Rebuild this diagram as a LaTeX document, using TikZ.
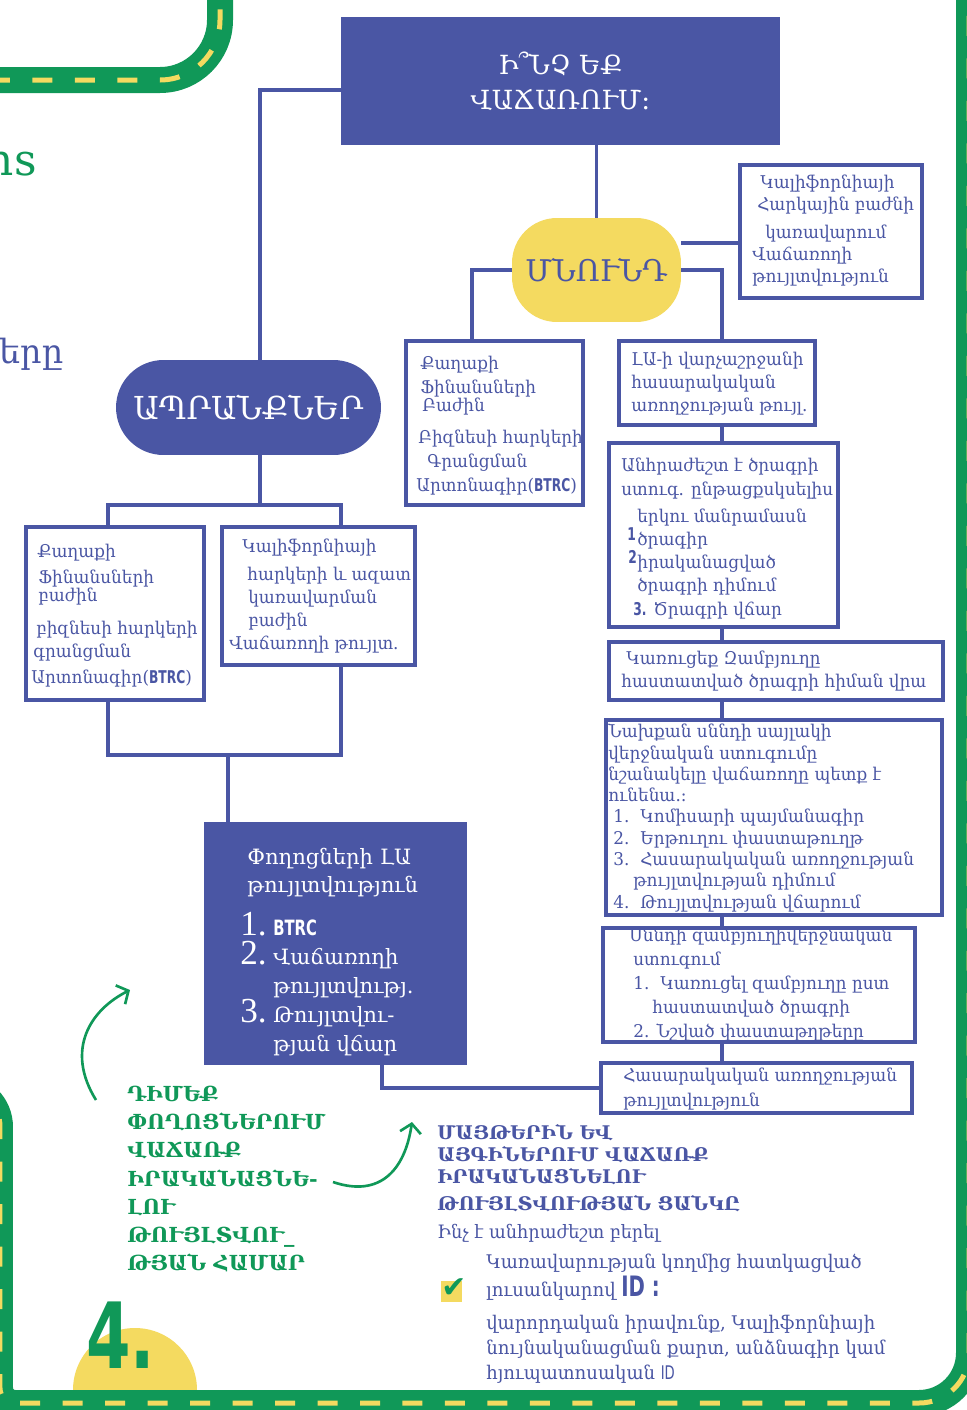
\documentclass[tikz,border=0pt]{standalone}
\usepackage{fontspec}
\setmainfont{DejaVu Serif}
\newfontfamily\bodyf[FakeStretch=0.96]{DejaVu Serif}
\newfontfamily\sansf{DejaVu Sans}
\newfontfamily\condf[FakeStretch=0.7]{DejaVu Sans}
\newfontfamily\numf{Liberation Serif}
\usetikzlibrary{arrows.meta}
\definecolor{planblue}{RGB}{74,86,164}
\definecolor{roadgreen}{RGB}{16,152,88}
\definecolor{signyellow}{RGB}{244,218,96}
\newcommand{\btrc}{{\condf\bfseries BTRC}}
\newcommand{\bignum}[1]{\makebox[0.66cm][l]{\numf\fontsize{20}{20}\selectfont #1}}
\newcommand{\itm}[1]{\makebox[0.54cm][l]{#1}}

\begin{document}
\begin{tikzpicture}[x=0.02cm, y=-0.02cm,
	road/.style={line width=0.52cm, draw=roadgreen, postaction={draw=signyellow, line width=0.1cm, dash pattern=on 0.4cm off 0.45cm}},
	link/.style={draw=planblue, line width=2.2pt},
	outbox/.style={draw=planblue, line width=2.2pt, fill=white, inner sep=0},
	solidbox/.style={fill=planblue, inner sep=0},
	boxtext/.style={anchor=north west, align=left, inner sep=0, text=planblue, font=\bodyf\fontsize{10}{#1}\selectfont},
	greenarrow/.style={draw=roadgreen, line width=1.5pt, -{Straight Barb[length=1.8mm,width=4.2mm]}}]
	\useasboundingbox (0,0) rectangle (967,1410);
	\fill[white] (0,0) rectangle (967,1410);
	\fill[signyellow] (135,1390) circle[radius=62];
	\draw[road] (-10,80) [rounded corners=1.2cm] -- (220,80) -- (220,-20);
	\draw[road] (-70,1087) [rounded corners=0.8cm] -- (0,1087) [rounded corners=0.3cm] -- (0,1403) [rounded corners=1cm] -- (969,1403) -- (969,-20);
	\node[anchor=base east, text=roadgreen, font=\fontsize{25}{25}\selectfont, inner sep=0] (cutgreen) at (37,175) {ns};
	\node[anchor=base east, text=planblue, font=\fontsize{19}{19}\selectfont, inner sep=0] (cutblue) at (64,363) {ները};
	\node[anchor=base west, text=roadgreen, font=\condf\bfseries\fontsize{52}{52}\selectfont, inner sep=0] (stepnum) at (86,1368) {4.};

	\node[solidbox, minimum width=8.78cm, minimum height=2.56cm, text=white, align=center, font=\fontsize{15}{20}\selectfont] (ask) at (560.5,81) {Ի՞ՆՉ ԵՔ\\ՎԱՃԱՌՈՒՄ:};
	\node[fill=signyellow, text=planblue, rounded corners=0.9cm, minimum width=3.38cm, minimum height=2.08cm, font=\fontsize{17}{17}\selectfont] (mnund) at (596.5,270) {ՄՆՈՒՆԴ};
	\node[fill=planblue, text=white, rounded corners=0.95cm, minimum width=5.3cm, minimum height=1.9cm, font=\fontsize{18}{18}\selectfont] (goods) at (248.5,407.5) {ԱՊՐԱՆՔՆԵՐ};

	\node[outbox, minimum width=3.64cm, minimum height=2.66cm] (calbox) at (831,231.5) {};
	\node[boxtext=12.5] (caltext) at (752,175) {\hspace*{0.16cm}Կալիֆորնիայի\\ \hspace*{0.1cm}Հարկային բաժնի\\[0.12cm] \hspace*{0.26cm}կառավարում\\ Վաճառողի\\ թույլտվություն};
	\node[outbox, minimum width=3.54cm, minimum height=3.28cm] (cityA) at (494.5,423) {};
	\node[boxtext=13] (citytextA) at (416,356) {\hspace*{0.08cm}Քաղաքի\\[0.02cm] \hspace*{0.08cm}Ֆինանսների\\[-0.1cm] \hspace*{0.12cm}Բաժին\\[0.18cm] \hspace*{0.04cm}Բիզնեսի հարկերի\\[0.02cm] \hspace*{0.22cm}Գրանցման\\[0.04cm] Արտոնագիր(\btrc)};
	\node[outbox, minimum width=3.92cm, minimum height=1.68cm] (lahealth) at (717,383) {};
	\node[boxtext=13] (lahealthtext) at (631,352) {ԼԱ-ի վարչաշրջանի\\ հասարակական\\ առողջության թույլ.};
	\node[outbox, minimum width=4.58cm, minimum height=3.68cm] (plan) at (723.5,535) {};
	\node[boxtext=13.2] (plantext) at (621,458) {Անհրաժեշտ է ծրագրի\\ ստուգ. ընթացքսկսելիս\\[0.08cm] \hspace*{0.32cm}երկու մանրամասն\\ \makebox[0.32cm][l]{\hspace*{0.12cm}\raisebox{0.6ex}{\condf\bfseries 1}}ծրագիր\\ \makebox[0.32cm][l]{\hspace*{0.14cm}\raisebox{0.6ex}{\condf\bfseries 2}}իրականացված\\ \hspace*{0.32cm}ծրագրի դիմում\\ \hspace*{0.24cm}{\condf\bfseries 3.} Ծրագրի վճար};
	\node[outbox, minimum width=6.68cm, minimum height=1.16cm] (build) at (776,671) {};
	\node[boxtext=13] (buildtext) at (621,651) {\hspace*{0.1cm}Կառուցեք Զամբյուղը\\ հաստատված ծրագրի հիման վրա};
	\node[outbox, minimum width=6.72cm, minimum height=3.9cm] (before) at (774,817.5) {};
	\node[boxtext=12.1] (beforetext) at (608,724) {Նախքան սննդի սայլակի\\ վերջնական ստուգումը\\ նշանակելը վաճառողը պետք է\\ ունենա.:\\ \hspace*{0.1cm}\itm{1.}Կոմիսարի պայմանագիր\\ \hspace*{0.1cm}\itm{2.}Երթուղու փաստաթուղթ\\ \hspace*{0.1cm}\itm{3.}Հասարակական առողջության\\ \hspace*{0.5cm}թույլտվության դիմում\\ \hspace*{0.1cm}\itm{4.}Թույլտվության վճարում};
	\node[outbox, minimum width=6.24cm, minimum height=2.28cm] (cartcheck) at (759,985) {};
	\node[boxtext=13.6] (cartchecktext) at (629,928) {Սննդի զամբյուղիվերջնական\\ \hspace*{0.08cm}ստուգում\\ \hspace*{0.08cm}\itm{1.}Կառուցել զամբյուղը ըստ\\ \hspace*{0.46cm}հաստատված ծրագրի\\ \hspace*{0.08cm}2. Նշված փաստաթղթերը};
	\node[outbox, minimum width=6.22cm, minimum height=1.0cm] (permit) at (756.5,1088) {};
	\node[boxtext=14.2] (permittext) at (623,1068) {Հասարակական առողջության\\ թույլտվություն};

	\node[outbox, minimum width=3.56cm, minimum height=3.46cm] (cityB) at (115,613.5) {};
	\node[boxtext=13] (citytextB) at (31,544) {\hspace*{0.12cm}Քաղաքի\\[0.06cm] \hspace*{0.14cm}Ֆինանսների\\[-0.1cm] \hspace*{0.14cm}բաժին\\[0.2cm] \hspace*{0.1cm}բիզնեսի հարկերի\\ \hspace*{0.04cm}գրանցման\\[0.08cm] Արտոնագիր(\btrc)};
	\node[outbox, minimum width=3.86cm, minimum height=2.76cm] (caltax) at (318.5,596) {};
	\node[boxtext=13.2] (caltaxtext) at (229,539) {\hspace*{0.26cm}Կալիֆորնիայի\\[0.08cm] \hspace*{0.36cm}հարկերի և ազատ\\ \hspace*{0.38cm}կառավարման\\ \hspace*{0.38cm}բաժին\\ Վաճառողի թույլտ.};
	\node[solidbox, minimum width=5.26cm, minimum height=4.86cm] (street) at (335.5,943.5) {};
	\node[boxtext=16.5, text=white, font=\fontsize{12}{16.5}\selectfont] (streettext) at (240,848) {\hspace*{0.14cm}Փողոցների ԼԱ\\[-0.02cm] \hspace*{0.14cm}թույլտվություն\\[0.28cm] \bignum{1.}{\condf\bfseries BTRC}\\ \bignum{2.}Վաճառողի\\ \bignum{}թույլտվությ.\\ \bignum{3.}Թույլտվու-\\ \bignum{}թյան վճար};

	\draw[link] ([yshift=-0.18cm]ask.west) -| ([xshift=0.23cm]goods.north);
	\draw[link] (ask.south -| mnund.north) -- (mnund.north);
	\draw[link] ([yshift=0.54cm]mnund.east) -- ([yshift=0.54cm]mnund.east -| calbox.west);
	\draw[link] (mnund.west) -| ([xshift=-0.45cm]cityA.north);
	\draw[link] (mnund.east) -| ([xshift=0.1cm]lahealth.north);
	\coordinate (spine) at (722,0);
	\draw[link] (lahealth.south -| spine) -- (plan.north -| spine);
	\draw[link] (plan.south -| spine) -- (build.north -| spine);
	\draw[link] (build.south -| spine) -- (before.north -| spine);
	\draw[link] (before.south -| spine) -- (cartcheck.north -| spine);
	\draw[link] (cartcheck.south -| spine) -- (permit.north -| spine);
	\coordinate (ltop) at (108,505);
	\coordinate (rtop) at (341,505);
	\draw[link] ([xshift=0.23cm]goods.south) -- ([xshift=0.23cm]goods.south |- ltop);
	\draw[link] (cityB.north -| ltop) -- (ltop) -- (rtop) -- (caltax.north -| rtop);
	\coordinate (lbot) at (108,755);
	\coordinate (rbot) at (341,755);
	\coordinate (mbot) at (228,755);
	\draw[link] (cityB.south -| lbot) -- (lbot) -- (rbot) -- (caltax.south -| rbot);
	\draw[link] (mbot) -- (street.north -| mbot);
	\coordinate (sturn) at (382,1088);
	\draw[link] (street.south -| sturn) |- (permit.west);

	\coordinate (arrowA) at (130,990);
	\coordinate (arrowB) at (412,1122);
	\draw[greenarrow] (96,1100) .. controls (65,1050) and (90,1010) .. (arrowA);
	\draw[greenarrow] (333,1182) .. controls (380,1198) and (405,1170) .. (arrowB);
	\node[anchor=north west, text=roadgreen, align=left, inner sep=0, font=\bfseries\fontsize{11.8}{16}\selectfont] (streetnote) at (127,1086) {ԴԻՄԵՔ\\ ՓՈՂՈՑՆԵՐՈՒՄ\\ ՎԱՃԱՌՔ\\ ԻՐԱԿԱՆԱՑՆԵ-\\ ԼՈՒ\\ ԹՈՒՅԼՏՎՈՒ\_\\ ԹՅԱՆ ՀԱՄԱՐ};
	\node[anchor=north west, text=planblue, align=left, inner sep=0, font=\bfseries\fontsize{10.7}{12.5}\selectfont] (marketnote) at (437,1124) {ՄԱՅԹԵՐԻՆ ԵՎ\\ ԱՅԳԻՆԵՐՈՒՄ ՎԱՃԱՌՔ\\ ԻՐԱԿԱՆԱՑՆԵԼՈՒ\\[0.1cm] ԹՈՒՅԼՏՎՈՒԹՅԱՆ ՑԱՆԿԸ};
	\node[anchor=base west, text=planblue, inner sep=0, font=\bodyf\fontsize{10.5}{13}\selectfont] (bring) at (437,1238) {Ինչ է անհրաժեշտ բերել};
	\node[fill=signyellow, minimum size=0.42cm, inner sep=0] (tickbox) at (451.5,1291.5) {};
	\node[text=roadgreen, inner sep=0, font=\sansf\bfseries\fontsize{17}{17}\selectfont] (tick) at (454,1288) {✔};
	\node[anchor=north west, text=planblue, align=left, inner sep=0, font=\bodyf\fontsize{10.7}{14.2}\selectfont] (idlist) at (486,1254) {Կառավարության կողմից հատկացված\\[0.06cm] լուսանկարով {\condf\bfseries\fontsize{16}{16}\selectfont ID :}\\[0.16cm] վարորդական իրավունք, Կալիֆորնիայի\\ նույնականացման քարտ,  անձնագիր կամ\\ հյուպատոսական {\condf ID}};
\end{tikzpicture}
\end{document}
